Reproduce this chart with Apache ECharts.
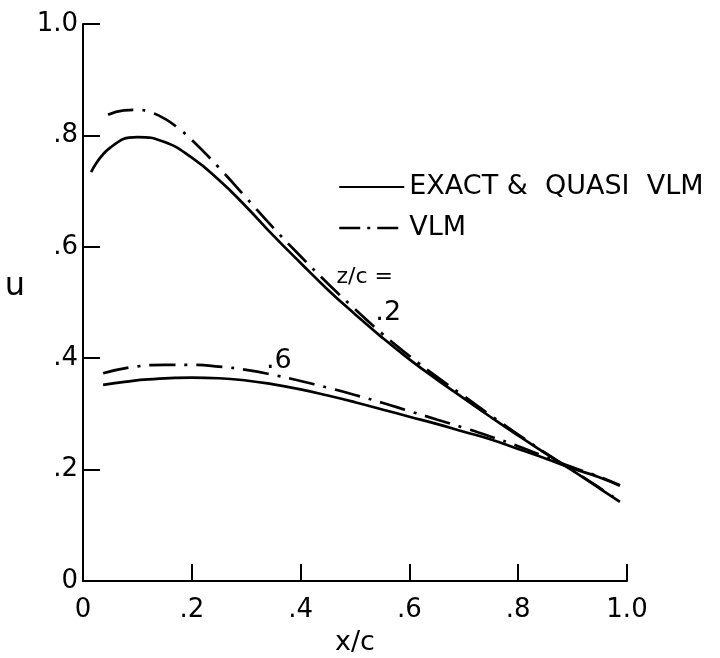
<!DOCTYPE html>
<html>
<head>
<meta charset="utf-8">
<script src="https://cdn.jsdelivr.net/npm/echarts@6/dist/echarts.min.js"></script>
<style>
  html, body { margin: 0; padding: 0; background: #fff; }
  #chart { width: 720px; height: 658px; }
</style>
</head>
<body>
<div id="chart"></div>
<script>
// values
const exact2X = [0.015, 0.05, 0.1, 0.15, 0.2, 0.25, 0.3, 0.35, 0.4, 0.45, 0.5, 0.55, 0.6, 0.65, 0.7, 0.75, 0.8, 0.85, 0.9, 0.95, 0.987];
const exact2Y = [0.734, 0.778, 0.797, 0.788, 0.760, 0.720, 0.672, 0.620, 0.571, 0.523, 0.479, 0.437, 0.398, 0.362, 0.328, 0.294, 0.261, 0.229, 0.198, 0.166, 0.142];

const vlm2X = [0.046, 0.075, 0.1, 0.125, 0.15, 0.175, 0.2, 0.25, 0.3, 0.35, 0.4, 0.45, 0.5, 0.55, 0.6, 0.65, 0.7, 0.75, 0.8, 0.85, 0.9, 0.95, 0.987];
const vlm2Y = [0.837, 0.845, 0.846, 0.841, 0.830, 0.813, 0.792, 0.742, 0.688, 0.634, 0.583, 0.534, 0.488, 0.444, 0.404, 0.367, 0.332, 0.297, 0.263, 0.230, 0.199, 0.167, 0.143];

const exact6X = [0.037, 0.08, 0.12, 0.2, 0.25, 0.3, 0.35, 0.4, 0.45, 0.5, 0.55, 0.6, 0.65, 0.7, 0.75, 0.8, 0.85, 0.9, 0.95, 0.987];
const exact6Y = [0.352, 0.358, 0.362, 0.365, 0.364, 0.360, 0.353, 0.344, 0.333, 0.321, 0.308, 0.295, 0.282, 0.268, 0.254, 0.237, 0.220, 0.202, 0.186, 0.171];

const vlm6X = [0.037, 0.09, 0.15, 0.2, 0.25, 0.3, 0.35, 0.4, 0.45, 0.5, 0.55, 0.6, 0.65, 0.7, 0.75, 0.8, 0.85, 0.9, 0.95, 0.987];
const vlm6Y = [0.373, 0.384, 0.388, 0.388, 0.385, 0.379, 0.370, 0.359, 0.347, 0.334, 0.320, 0.305, 0.290, 0.275, 0.259, 0.242, 0.223, 0.204, 0.187, 0.172];

const tickLabels = { 0: '0', 0.2: '.2', 0.4: '.4', 0.6: '.6', 0.8: '.8', 1: '1.0' };

const noteText = ['z/c =', '.2', '.6'];
const noteX = [0.518, 0.561, 0.36];
const noteY = [0.546, 0.481, 0.395];

const FONT = 'DejaVu Sans';

function pairs(xs, ys) {
  return xs.map((x, i) => [x, ys[i]]);
}

function fmt(v) {
  const k = Math.round(v * 10) / 10;
  return tickLabels[k] !== undefined ? tickLabels[k] : '';
}

const solid = { color: '#000', width: 2.7, type: 'solid' };
const dashDot = { color: '#000', width: 2.7, type: [26, 9, 3, 9] };
const noSymbol = { opacity: 0, borderWidth: 0 };

const chart = echarts.init(document.getElementById('chart'));

const option = {
  animation: false,
  backgroundColor: '#fff',
  grid: { left: 83, right: 93, top: 24, bottom: 77, outerBoundsMode: 'none' },
  legend: {
    orient: 'vertical',
    left: 338,
    top: 173,
    padding: 0,
    itemWidth: 65,
    itemHeight: 4,
    itemGap: 13,
    data: [
      { name: 'EXACT &  QUASI  VLM', lineStyle: { width: 2, type: 'solid' }, itemStyle: noSymbol },
      { name: 'VLM', lineStyle: { width: 2.5, type: [21, 7, 3, 7] }, itemStyle: noSymbol }
    ],
    textStyle: { color: '#000', fontSize: 27, lineHeight: 28, fontFamily: FONT },
    selectedMode: false
  },
  xAxis: {
    type: 'value', min: 0, max: 1, interval: 0.2,
    name: 'x/c', nameLocation: 'middle', nameGap: 48,
    nameTextStyle: { color: '#000', fontSize: 27, fontFamily: FONT },
    axisLine: { lineStyle: { color: '#000', width: 2 } },
    axisTick: { inside: true, length: 17, lineStyle: { color: '#000', width: 2 } },
    axisLabel: { color: '#000', fontSize: 26, fontFamily: FONT, margin: 16, formatter: fmt },
    splitLine: { show: false }
  },
  yAxis: {
    type: 'value', min: 0, max: 1, interval: 0.2,
    name: 'u', nameLocation: 'middle', nameGap: 58, nameRotate: 0,
    nameTextStyle: { color: '#000', fontSize: 32, fontFamily: FONT, align: 'right', verticalAlign: 'bottom' },
    axisLine: { lineStyle: { color: '#000', width: 2 } },
    axisTick: { inside: true, length: 17, lineStyle: { color: '#000', width: 2 } },
    axisLabel: { color: '#000', fontSize: 26, fontFamily: FONT, margin: 5, formatter: fmt },
    splitLine: { show: false }
  },
  series: [
    {
      name: 'EXACT &  QUASI  VLM', type: 'line', smooth: true, symbol: 'none',
      data: pairs(exact2X, exact2Y), lineStyle: solid, itemStyle: { color: '#000' },
      markPoint: {
        symbol: 'circle', symbolSize: 0,
        label: { show: true, color: '#000', fontFamily: FONT, fontSize: 22, formatter: p => p.name },
        data: noteText.map((t, i) => ({
          name: t, coord: [noteX[i], noteY[i]],
          label: { fontSize: i === 0 ? 22 : 27 }
        }))
      }
    },
    {
      name: 'VLM', type: 'line', smooth: true, symbol: 'none',
      data: pairs(vlm2X, vlm2Y), lineStyle: dashDot, itemStyle: { color: '#000' }
    },
    {
      name: 'EXACT &  QUASI  VLM', type: 'line', smooth: true, symbol: 'none',
      data: pairs(exact6X, exact6Y), lineStyle: solid, itemStyle: { color: '#000' }
    },
    {
      name: 'VLM', type: 'line', smooth: true, symbol: 'none',
      data: pairs(vlm6X, vlm6Y), lineStyle: dashDot, itemStyle: { color: '#000' }
    }
  ]
};

chart.setOption(option);
</script>
</body>
</html>
